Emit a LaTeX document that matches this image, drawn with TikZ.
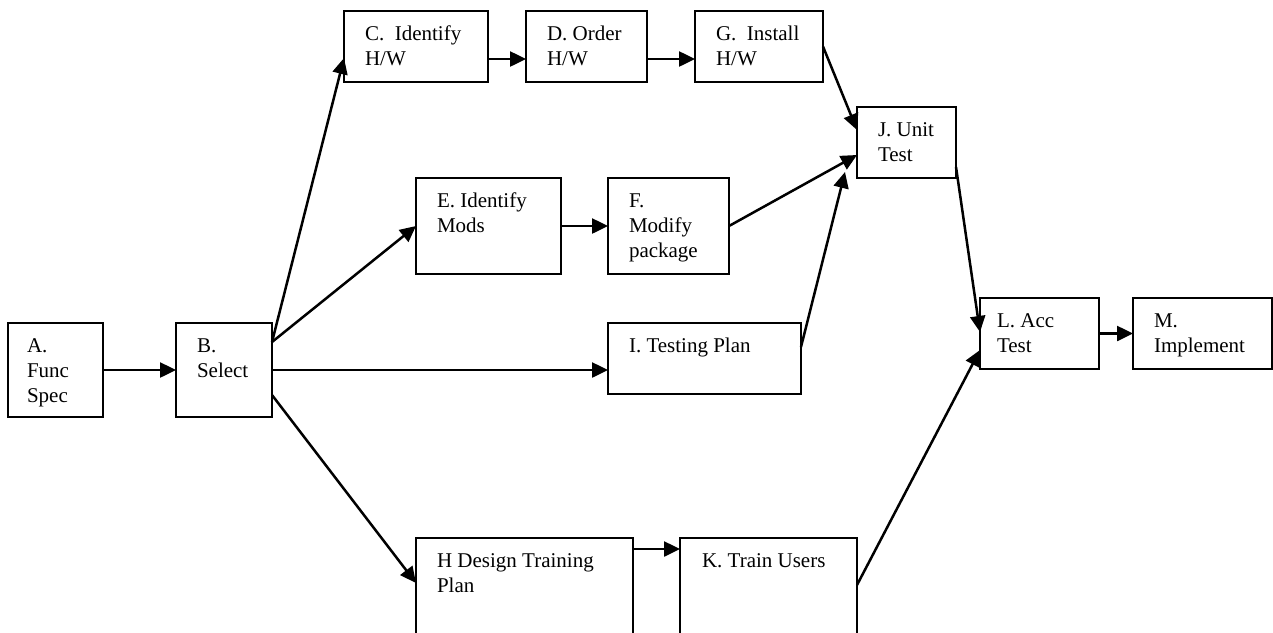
\documentclass[tikz,border=0pt]{standalone}
\usepackage{fontspec}
\setmainfont{Liberation Serif}
\usetikzlibrary{arrows.meta}
\tikzset{
  box/.style={draw=black, line width=1.1pt, fill=none, inner sep=0pt, outer sep=0pt, anchor=north west},
  conn/.style={line width=1.25pt, -{Triangle[length=8pt,width=7.5pt]}},
  txt/.style={inner sep=0pt, outer sep=0pt, anchor=base west, font=\fontsize{10.5}{12.5}\selectfont}
}
\newcommand{\mybox}[5]{\node[box, minimum width={(#4-#2)*0.5pt}, minimum height={(#5-#3)*0.5pt}] (#1) at (#2,#3) {};}
\newcommand{\mytext}[3]{\node[txt] (#1t) at ([shift={(#2,29)}]#1.north west) {\begin{tabular}[t]{@{}l@{}}#3\end{tabular}};}
\begin{document}
\begin{tikzpicture}[x=0.5pt,y=-0.5pt]
\useasboundingbox (0,0) rectangle (1273,632);
\mybox{A}{8}{323}{103}{417}
\mybox{B}{176}{323}{272}{417}
\mybox{C}{344}{11}{488}{82}
\mybox{D}{526}{11}{647}{82}
\mybox{G}{695}{11}{823}{82}
\mybox{E}{416}{178}{561}{274}
\mybox{F}{608}{178}{729}{274}
\mybox{J}{857}{107}{956}{178}
\mybox{I}{608}{323}{801}{394}
\mybox{L}{980}{298}{1099}{369}
\mybox{M}{1133}{298}{1272}{369}
\mybox{H}{416}{538}{633}{660}
\mybox{K}{680}{538}{857}{660}

\mytext{A}{19}{A.\\Func\\Spec}
\mytext{B}{21}{B.\\Select}
\mytext{C}{21}{C.\ \ Identify\\H/W}
\mytext{D}{21}{D. Order\\H/W}
\mytext{G}{21}{G.\ \ Install\\H/W}
\mytext{E}{21}{E. Identify\\Mods}
\mytext{F}{21}{F.\\Modify\\package}
\mytext{J}{21}{J. Unit\\Test}
\mytext{I}{21}{I. Testing Plan}
\mytext{L}{17}{L. Acc\\Test}
\mytext{M}{21}{M.\\Implement}
\mytext{H}{21}{H Design Training\\Plan}
\mytext{K}{22}{K. Train Users}

\coordinate (bup) at ([shift={(0,19)}]B.north east);
\coordinate (bdn) at ([shift={(0,-22)}]B.south east);
\coordinate (cd) at ([shift={(0,48)}]C.north east);
\coordinate (dg) at ([shift={(0,48)}]D.north east);
\coordinate (ij) at ([shift={(-12,-6)}]J.south west);
\coordinate (hk) at ([shift={(0,11)}]H.north east);

\draw[conn] (A.east) -- (B.west);
\draw[conn] (bup) -- ([shift={(0,-24)}]C.south west);
\draw[conn] (bup) -- (E.west);
\draw[conn] (B.east) -- (I.west |- B.east);
\draw[conn] (bdn) -- ([shift={(0,45)}]H.north west);
\draw[conn] (cd) -- (D.west |- cd);
\draw[conn] (dg) -- (G.west |- dg);
\draw[conn] (G.east) -- ([shift={(0,23)}]J.north west);
\draw[conn] (E.east) -- (F.west);
\draw[conn] (F.east) -- ([shift={(0,48)}]J.north west);
\draw[conn] ([shift={(0,24)}]I.north east) -- (ij);
\draw[conn] ([shift={(0,-11)}]J.south east) -- ([shift={(0,34)}]L.north west);
\draw[conn] ([shift={(0,47)}]K.north east) -- ([shift={(0,52)}]L.north west);
\draw[conn] (hk) -- (K.west |- hk);
\draw[conn] (L.east) -- (M.west);
\end{tikzpicture}
\end{document}
